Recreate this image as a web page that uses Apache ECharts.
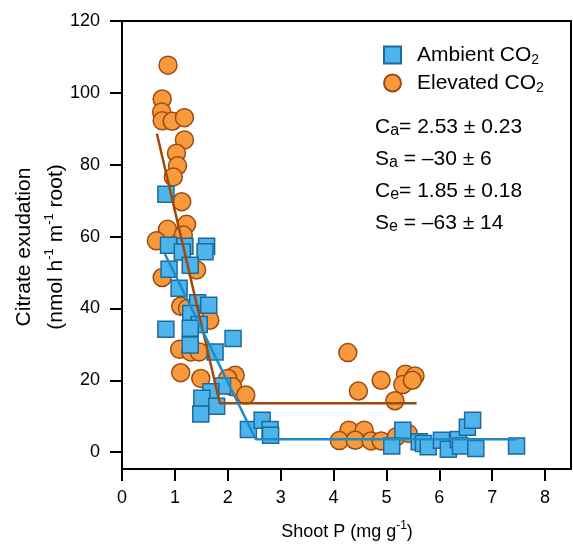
<!DOCTYPE html>
<html>
<head>
<meta charset="utf-8">
<script src="https://cdn.jsdelivr.net/npm/echarts@6/dist/echarts.min.js"></script>
<style>
html, body { margin: 0; padding: 0; background: #fff; }
#chart { width: 573px; height: 544px; }
</style>
</head>
<body>
<div id="chart"></div>
<script>
// ambient CO2 (blue squares)
var ambientX = [0.83, 0.88, 1.19, 1.14, 1.60, 1.57, 1.29, 0.89, 1.08, 1.43, 1.64, 1.30, 1.46, 0.83, 1.29,
  2.10, 1.29, 1.76, 1.90, 1.68, 1.51, 1.79, 1.49, 2.39, 2.65, 2.80, 2.81,
  5.31, 5.10, 5.62, 5.70, 5.79, 6.04, 6.17, 6.36, 6.40, 6.53, 6.63, 6.69, 7.46];
var ambientY = [71.8, 57.6, 57.3, 55.7, 57.3, 55.8, 52.0, 50.9, 45.6, 41.6, 40.9, 38.6, 35.5, 34.2, 34.5,
  31.6, 29.8, 27.9, 18.4, 16.8, 15.0, 12.8, 10.6, 6.3, 8.9, 6.3, 4.7,
  6.1, 1.7, 2.9, 2.4, 1.5, 3.3, 0.8, 3.5, 1.7, 6.9, 8.9, 1.0, 1.7];

// elevated CO2 (orange circles)
var elevatedX = [0.87, 0.76, 0.75, 0.76, 0.95, 1.18, 1.18, 1.03, 1.05, 0.97, 1.13, 0.86, 1.22, 1.16, 0.65,
  1.41, 0.76, 1.11, 1.24, 1.66, 1.09, 1.30, 1.46, 1.11, 1.49, 2.14, 2.00, 2.09, 2.34,
  4.27, 4.90, 4.47, 5.36, 5.54, 5.31, 5.49, 5.16, 4.29, 4.58, 4.11, 4.41, 4.71, 4.90, 5.19, 5.41];
var elevatedY = [107.7, 98.3, 94.7, 92.2, 92.1, 93.1, 86.9, 83.2, 79.7, 76.6, 69.7, 62.0, 63.4, 60.4, 58.8,
  50.7, 48.6, 40.6, 40.0, 36.7, 28.6, 27.9, 27.9, 22.1, 20.5, 21.4, 20.5, 18.2, 15.9,
  27.7, 20.0, 17.0, 21.7, 21.2, 18.8, 20.0, 14.3, 6.1, 6.1, 3.2, 3.3, 3.1, 3.1, 4.3, 5.2];

// broken-stick fits
var ambientFitX = [0.80, 2.53, 7.47];
var ambientFitY = [55.5, 3.6, 3.6];
var elevatedFitX = [0.66, 1.85, 5.57];
var elevatedFitY = [88.6, 13.6, 13.6];

var xTicks = [0, 1, 2, 3, 4, 5, 6, 7, 8];
var yTicks = [0, 20, 40, 60, 80, 100, 120];

var statLines = [
  'C{s|a}= 2.53 ± 0.23',
  'S{s|a} = –30 ± 6',
  'C{s|e}= 1.85 ± 0.18',
  'S{s|e} = –63 ± 14'
];

function zip(xs, ys) {
  return xs.map(function (x, i) { return [x, ys[i]]; });
}

var FONT = 'Liberation Sans, Arial, sans-serif';
var chart = echarts.init(document.getElementById('chart'));

var statGraphics = statLines.map(function (t, i) {
  return {
    type: 'text',
    left: 375,
    top: 115 + i * 32,
    style: {
      text: t,
      fontFamily: FONT,
      fontSize: 21,
      lineHeight: 24,
      fill: '#000',
      rich: {
        s: { fontFamily: FONT, fontSize: 16, lineHeight: 12, verticalAlign: 'bottom', fill: '#000' }
      }
    }
  };
});

chart.setOption({
  animation: false,
  backgroundColor: '#fff',
  grid: {
    left: 122, right: 2, top: 21, bottom: 75,
    show: true, borderColor: '#000', borderWidth: 2
  },
  legend: {
    data: [
      { name: 'Ambient CO2', icon: 'rect' },
      { name: 'Elevated CO2', icon: 'circle' }
    ],
    orient: 'vertical',
    left: 378,
    top: 38,
    itemWidth: 17,
    itemHeight: 17,
    itemGap: 4,
    formatter: function (name) { return name.replace('CO2', 'CO{sub|2}'); },
    textStyle: {
      fontFamily: FONT, fontSize: 21, lineHeight: 24, color: '#000',
      padding: [0, 0, 0, 11],
      rich: {
        sub: { fontFamily: FONT, fontSize: 14, lineHeight: 12, verticalAlign: 'bottom', color: '#000' }
      }
    }
  },
  xAxis: {
    type: 'value',
    min: 0,
    max: 8.49,
    axisLine: { onZero: false, lineStyle: { color: '#000', width: 2 } },
    axisTick: { show: true, length: 12, customValues: xTicks, lineStyle: { color: '#000', width: 2 } },
    axisLabel: { customValues: xTicks, fontFamily: FONT, fontSize: 18, color: '#000', margin: 20 },
    splitLine: { show: false }
  },
  yAxis: {
    type: 'value',
    min: -4.7,
    max: 120,
    axisLine: { show: true, onZero: false, lineStyle: { color: '#000', width: 2 } },
    axisTick: { show: true, length: 12, customValues: yTicks, lineStyle: { color: '#000', width: 2 } },
    axisLabel: { customValues: yTicks, fontFamily: FONT, fontSize: 18, color: '#000', margin: 22 },
    splitLine: { show: false }
  },
  series: [
    {
      name: 'Elevated CO2',
      type: 'scatter',
      symbol: 'circle',
      symbolSize: 18,
      data: zip(elevatedX, elevatedY),
      itemStyle: { color: '#f89a3c', borderColor: '#9c4a12', borderWidth: 1.5, opacity: 1 },
      z: 2
    },
    {
      name: 'Ambient CO2',
      type: 'scatter',
      symbol: 'rect',
      symbolSize: 16,
      data: zip(ambientX, ambientY),
      itemStyle: { color: '#4db5ec', borderColor: '#1d6a9c', borderWidth: 1.5, opacity: 1 },
      z: 3
    },
    {
      name: 'Elevated fit',
      type: 'line',
      symbol: 'none',
      data: zip(elevatedFitX, elevatedFitY),
      lineStyle: { color: '#a0480c', width: 2.5 },
      z: 4
    },
    {
      name: 'Ambient fit',
      type: 'line',
      symbol: 'none',
      data: zip(ambientFitX, ambientFitY),
      lineStyle: { color: '#1b8bca', width: 2.5 },
      z: 4
    }
  ],
  graphic: [
    {
      type: 'text',
      x: 24, y: 247,
      rotation: Math.PI / 2,
      style: { text: 'Citrate exudation', fontFamily: FONT, fontSize: 21, fill: '#000', align: 'center', verticalAlign: 'middle' }
    },
    {
      type: 'text',
      x: 56, y: 247,
      rotation: Math.PI / 2,
      style: {
        text: '(nmol h{sup|-1} m{sup|-1} root)',
        fontFamily: FONT, fontSize: 21, lineHeight: 26, fill: '#000', align: 'center', verticalAlign: 'middle',
        rich: { sup: { fontFamily: FONT, fontSize: 13, lineHeight: 12, verticalAlign: 'top', fill: '#000' } }
      }
    },
    {
      type: 'text',
      x: 347, y: 532,
      style: {
        text: 'Shoot P (mg g{sup|-1})',
        fontFamily: FONT, fontSize: 18, lineHeight: 24, fill: '#000', align: 'center', verticalAlign: 'middle',
        rich: { sup: { fontFamily: FONT, fontSize: 12, lineHeight: 12, verticalAlign: 'top', fill: '#000' } }
      }
    }
  ].concat(statGraphics)
});
</script>
</body>
</html>
